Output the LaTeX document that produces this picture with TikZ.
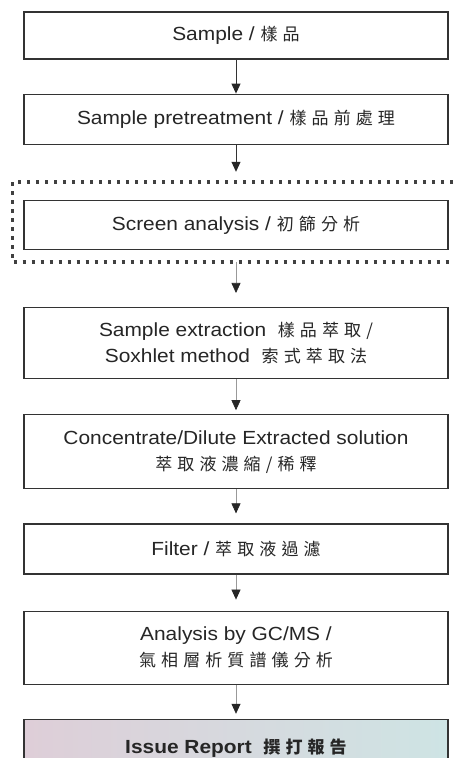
\documentclass[tikz,border=0pt]{standalone}
\usepackage{fontspec}
\setmainfont{Liberation Sans}[FakeStretch=1.1]
\newfontfamily\cjk{Noto Sans CJK TC}[LetterSpace=30]
\usetikzlibrary{arrows.meta, positioning}
\newcommand{\zh}[1]{{\cjk\fontsize{17}{26}\selectfont #1}}
\definecolor{reportleft}{RGB}{222,206,216}
\definecolor{reportmid}{RGB}{208,226,214}
\definecolor{reportright}{RGB}{206,228,228}
\tikzstyle{process} = [rectangle, minimum width=424pt, minimum height=50pt, text centered, align=center, inner sep=0pt, draw=black!80, line width=1.2pt, fill=white, text=black!85, font=\fontsize{19}{26}\selectfont]
\tikzstyle{report} = [process, left color=reportleft, middle color=reportmid, right color=reportright, font=\bfseries\fontsize{19}{26}\selectfont]
\tikzstyle{frame} = [draw=black!75, line width=3.5pt, dash pattern=on 3.5pt off 5.5pt]
\tikzstyle{arrow} = [line width=0.9pt, draw=black!80, -{Triangle[width=9pt, length=10pt, color=black!85]}]
\tikzstyle{faint} = [arrow, draw=black!40, line width=0.7pt]

\begin{document}
\begin{tikzpicture}[x=1pt, y=1pt, node distance=34pt]
\useasboundingbox (0,0) rectangle (454,758);
\clip (0,0) rectangle (454,758);

% Nodes
\node (sample) [process, minimum height=47pt] at (236,722.5) {Sample /\ \zh{樣品}};
\node (pretreat) [process, below=of sample] {Sample pretreatment /\ \zh{樣品前處理}};
\node (screen) [process, minimum height=49pt, below=55pt of pretreat] {Screen analysis /\ \zh{初篩分析}};
\node (extract) [process, minimum height=71pt, below=57pt of screen] {Sample extraction\ \ \zh{樣品萃取/}\\Soxhlet method\ \ \zh{索式萃取法}};
\node (conc) [process, minimum height=74pt, below=35pt of extract] {Concentrate/Dilute Extracted solution\\\zh{萃取液濃縮/稀釋}};
\node (filter) [process, below=of conc] {Filter /\ \zh{萃取液過濾}};
\node (gcms) [process, minimum height=73pt, below=36pt of filter] {Analysis by GC/MS /\\\zh{氣相層析質譜儀分析}};
\node (report) [report, minimum height=58pt, below=of gcms] {Issue Report\ \ \zh{撰打報告}};

% Dotted frame round the screen analysis
\coordinate (ftl) at ([xshift=-11pt, yshift=18pt]screen.north west);
\coordinate (fbl) at ([xshift=-11pt, yshift=-12pt]screen.south west);
\coordinate (fr) at (462,0);
\draw [frame] (ftl -| fr) -- (ftl) -- (fbl) -- (fbl -| fr);

% Arrows
\draw [arrow] (sample) -- (pretreat);
\draw [arrow, shorten >=10pt] (pretreat) -- (pretreat.south |- ftl);
\draw [faint, shorten >=14pt] (screen.south |- fbl) -- (extract);
\draw [faint, shorten >=4pt] (extract) -- (conc);
\draw [faint, shorten >=10pt] (conc) -- (filter);
\draw [faint, shorten >=11pt] (filter) -- (gcms);
\draw [faint, shorten >=5pt] (gcms) -- (report);

\end{tikzpicture}
\end{document}
